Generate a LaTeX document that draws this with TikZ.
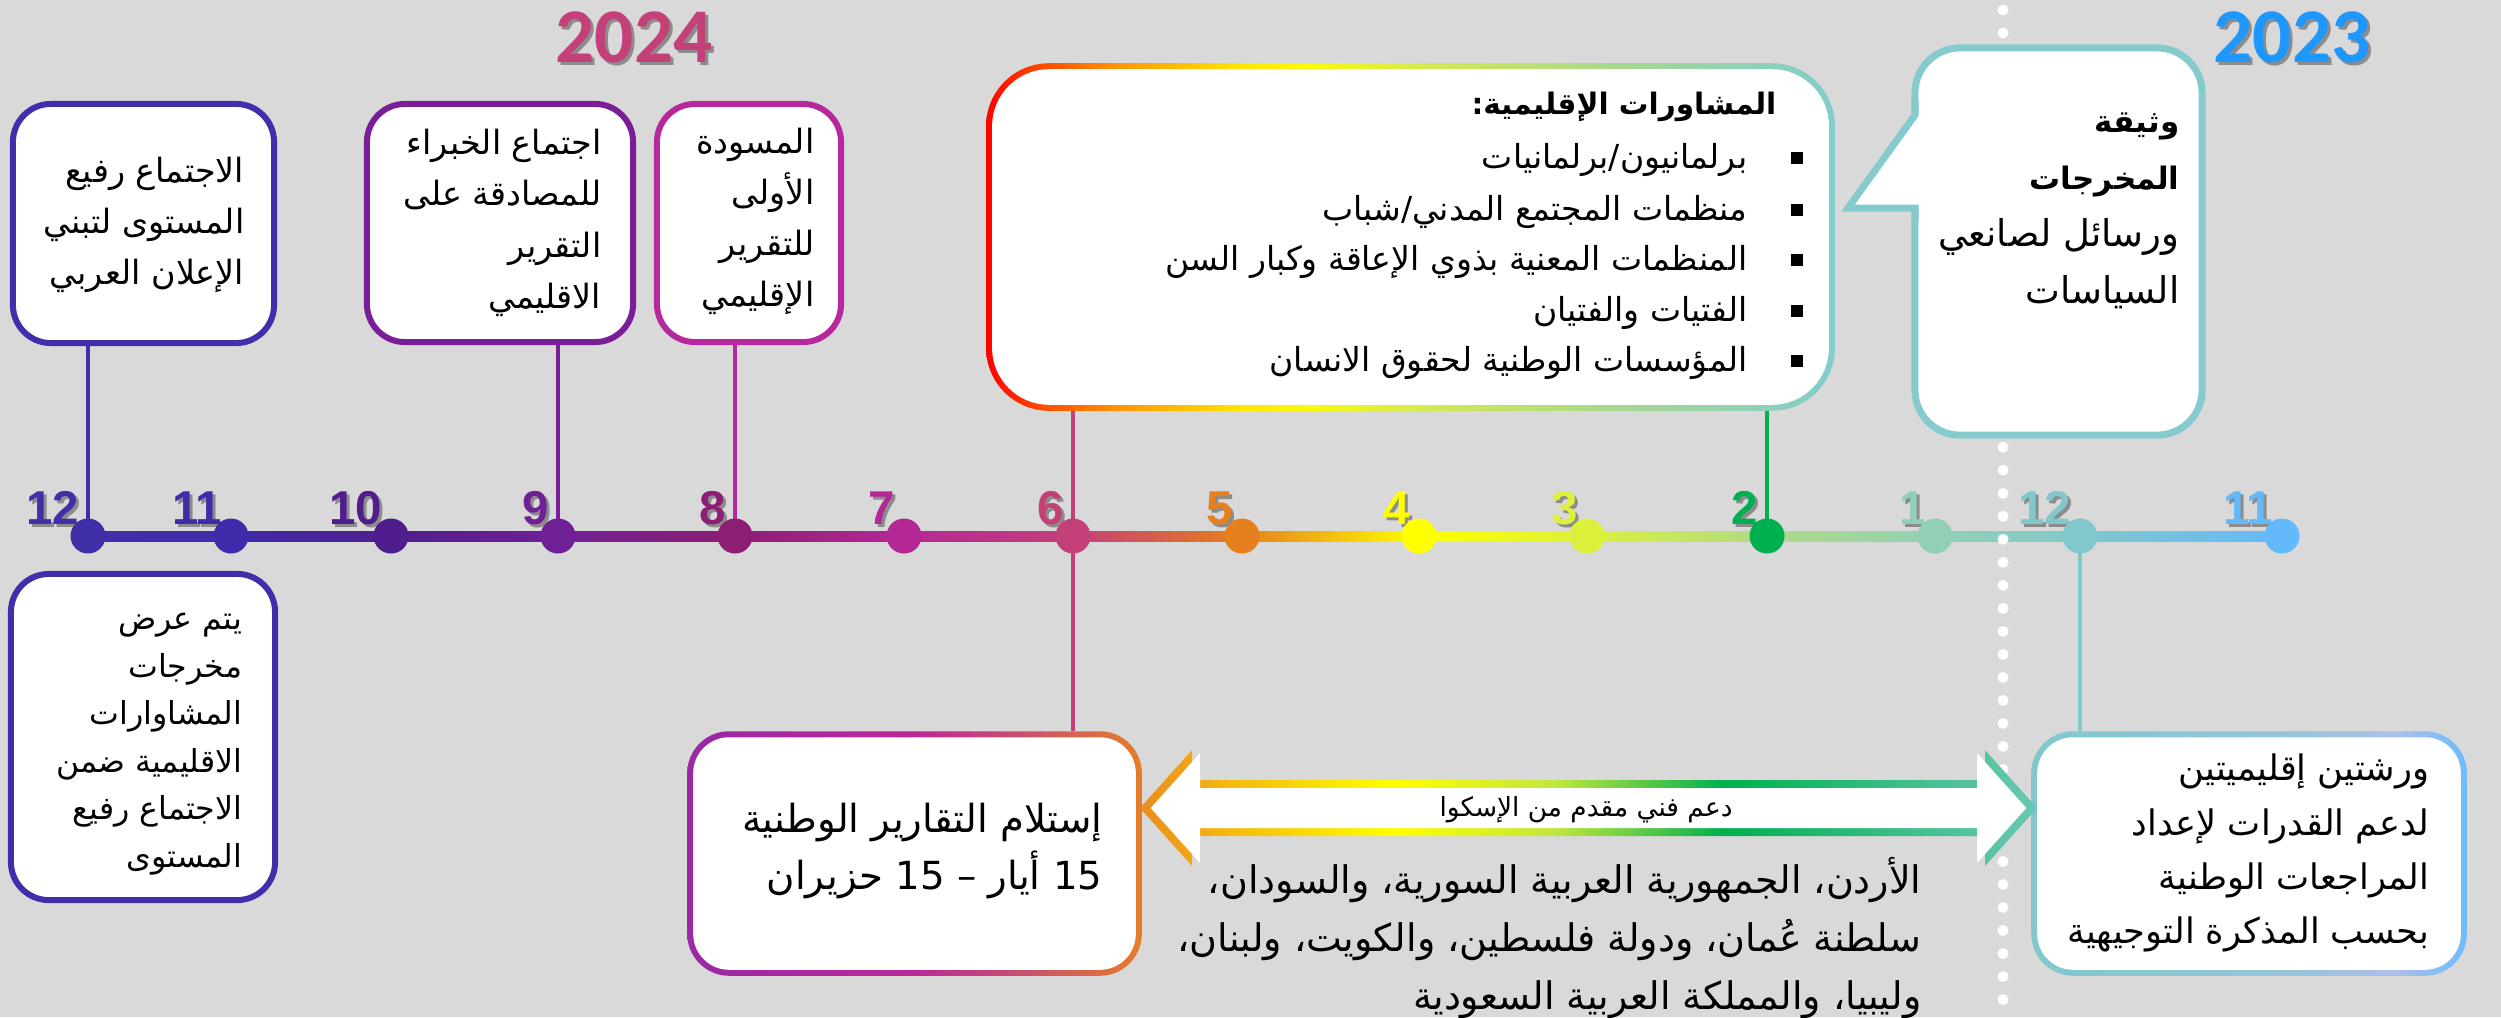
\documentclass[tikz,border=0pt]{standalone}
\usepackage{fontspec}
\usepackage{graphicx}
\setmainfont{Liberation Sans}
\newfontfamily\arabicfont[Script=Arabic]{DejaVu Sans}
\newfontfamily\numfont{Liberation Sans}
\newfontfamily\yearfont{Carlito}
\TeXXeTstate=1
\newcommand\arl[1]{\beginR #1\endR}
\newcommand\arsize[2]{\arabicfont\fontsize{#1}{#2}\selectfont}

\definecolor{bg}{RGB}{217,217,217}
\definecolor{nshadow}{RGB}{140,140,140}
\definecolor{c12}{RGB}{64,48,168}
\definecolor{c11}{RGB}{64,44,170}
\definecolor{c10}{RGB}{80,30,140}
\definecolor{c9}{RGB}{112,32,150}
\definecolor{c8}{RGB}{140,30,115}
\definecolor{c7}{RGB}{180,40,150}
\definecolor{c6}{RGB}{196,64,120}
\definecolor{c5}{RGB}{230,128,30}
\definecolor{c4}{RGB}{255,255,0}
\definecolor{c3}{RGB}{220,240,60}
\definecolor{c2}{RGB}{0,176,80}
\definecolor{cl2}{RGB}{175,218,135}
\definecolor{c1}{RGB}{145,208,180}
\definecolor{c12b}{RGB}{128,200,204}
\definecolor{c11b}{RGB}{100,185,250}
\definecolor{cA}{RGB}{66,46,170}
\definecolor{cB}{RGB}{122,30,152}
\definecolor{cC}{RGB}{182,40,155}
\definecolor{cE}{RGB}{133,203,205}
\definecolor{y24}{RGB}{196,64,120}
\definecolor{y23}{RGB}{30,152,255}
% box D gradient
\definecolor{d0}{RGB}{255,0,0}
\definecolor{d1}{RGB}{255,70,0}
\definecolor{d2}{RGB}{255,145,0}
\definecolor{d3}{RGB}{255,230,0}
\definecolor{d4}{RGB}{250,250,10}
\definecolor{d5}{RGB}{215,235,75}
\definecolor{d6}{RGB}{165,215,145}
\definecolor{d7}{RGB}{130,205,205}
% box G gradient
\definecolor{g0}{RGB}{155,40,165}
\definecolor{g1}{RGB}{188,40,152}
\definecolor{g2}{RGB}{202,80,110}
\definecolor{g3}{RGB}{230,125,40}
% box H gradient
\definecolor{h0}{RGB}{128,200,204}
\definecolor{h1}{RGB}{150,196,218}
\definecolor{h2}{RGB}{172,190,234}
\definecolor{h3}{RGB}{110,188,250}
% arrow gradient
\definecolor{a0}{RGB}{235,140,30}
\definecolor{a1}{RGB}{245,185,15}
\definecolor{a2}{RGB}{255,255,0}
\definecolor{a3}{RGB}{195,230,60}
\definecolor{a4}{RGB}{0,176,80}
\definecolor{a5}{RGB}{105,200,180}

\pgfdeclarehorizontalshading{tlshade}{100bp}{color(0bp)=(c12); color(25bp)=(c12); color(28.26bp)=(c11); color(31.9bp)=(c10); color(35.71bp)=(c9); color(39.74bp)=(c8); color(43.6bp)=(c7); color(47.45bp)=(c6); color(51.3bp)=(c5); color(55.33bp)=(c4); color(59.16bp)=(c3); color(63.26bp)=(cl2); color(67.09bp)=(c1); color(70.4bp)=(c12b); color(75bp)=(c11b); color(100bp)=(c11b)}
\pgfdeclarehorizontalshading{dshade}{100bp}{color(0bp)=(d0); color(25bp)=(d0); color(28bp)=(d1); color(32.5bp)=(d2); color(40bp)=(d3); color(44bp)=(d4); color(50bp)=(d5); color(62.5bp)=(d6); color(75bp)=(d7); color(100bp)=(d7)}
\pgfdeclarehorizontalshading{gshade}{100bp}{color(0bp)=(g0); color(25bp)=(g0); color(50bp)=(g1); color(62bp)=(g2); color(75bp)=(g3); color(100bp)=(g3)}
\pgfdeclarehorizontalshading{hshade}{100bp}{color(0bp)=(h0); color(25bp)=(h0); color(55bp)=(h1); color(67bp)=(h2); color(75bp)=(h3); color(100bp)=(h3)}
\pgfdeclarehorizontalshading{ashade}{100bp}{color(0bp)=(a0); color(25bp)=(a0); color(30bp)=(a1); color(39bp)=(a2); color(48bp)=(a3); color(57.5bp)=(a4); color(75bp)=(a5); color(100bp)=(a5)}

\newcommand\tlmark[4]{%
  \node[num, text=nshadow] (#1s) at (#2-5,527) {#4};
  \node[num, text=#3] (#1l) at (#2-8,524) {#4};
  \node[dot, fill=#3] (#1) at (#2,536) {};}

\begin{document}
\begin{tikzpicture}[x=0.01cm,y=-0.01cm,
  dot/.style={circle, inner sep=0pt, minimum size=0.35cm},
  num/.style={font=\numfont\bfseries\fontsize{13.5pt}{13.5pt}\selectfont, inner sep=0pt, anchor=base east},
  year/.style={font=\yearfont\bfseries\fontsize{22pt}{22pt}\selectfont, inner sep=0pt},
  box/.style={rectangle, rounded corners=0.38cm, line width=0.06cm, fill=white, inner sep=0pt},
  gbox/.style={rectangle, inner sep=0pt},
  conn/.style={line width=0.04cm},
  artxt/.style={inner sep=0pt, align=right, text=black},
  sq/.style={rectangle, fill=black, inner sep=0pt, minimum size=0.12cm},
]
\useasboundingbox (0,0) rectangle (2501,1017);
\fill[bg] (0,0) rectangle (2501,1017);

% years
\node[year, text=nshadow] (y24s) at (637,40) {2024};
\node[year, text=y24] (y24l) at (634,37) {2024};
\node[year, text=nshadow] (y23s) at (2295,40) {2023};
\node[year, text=y23] (y23l) at (2292,37) {2023};

% timeline
\shade[shading=tlshade] (88,531) rectangle (2282,541);

% dotted separator
\coordinate (vtop) at (2003,10);
\coordinate (vbot) at (2003,1017);
\draw[white, line width=0.11cm, line cap=round, dash pattern=on 0pt off 0.23cm] (vtop) -- (vbot);

% dot positions
\coordinate (p12) at (88,536);
\coordinate (p9) at (558,536);
\coordinate (p8) at (735,536);
\coordinate (p6) at (1073,536);
\coordinate (p2) at (1767,536);
\coordinate (p12b) at (2080,536);

% plain boxes
\node[box, draw=cA, minimum width=2.61cm, minimum height=2.39cm] (bA) at (143.5,223.5) {};
\node[box, draw=cB, minimum width=2.66cm, minimum height=2.38cm] (bB) at (500,223) {};
\node[box, draw=cC, minimum width=1.84cm, minimum height=2.38cm] (bC) at (749,223) {};
\node[box, draw=cA, minimum width=2.64cm, minimum height=3.26cm] (bF) at (143,737) {};

% box D (gradient border)
\node[gbox, minimum width=8.47cm, minimum height=3.46cm] (bD) at (1410.5,237) {};
\shade[shading=dshade, rounded corners=0.63cm] (bD.north west) rectangle (bD.south east);
\fill[white, rounded corners=0.57cm] ([shift={(0.06cm,-0.06cm)}]bD.north west) rectangle ([shift={(-0.06cm,0.06cm)}]bD.south east);

% box G
\node[gbox, minimum width=4.53cm, minimum height=2.43cm] (bG) at (914.5,853.5) {};
\shade[shading=gshade, rounded corners=0.42cm] (bG.north west) rectangle (bG.south east);
\fill[white, rounded corners=0.36cm] ([shift={(0.06cm,-0.06cm)}]bG.north west) rectangle ([shift={(-0.06cm,0.06cm)}]bG.south east);

% box H
\node[gbox, minimum width=4.34cm, minimum height=2.43cm] (bH) at (2249,853.5) {};
\shade[shading=hshade, rounded corners=0.42cm] (bH.north west) rectangle (bH.south east);
\fill[white, rounded corners=0.36cm] ([shift={(0.06cm,-0.06cm)}]bH.north west) rectangle ([shift={(-0.06cm,0.06cm)}]bH.south east);

% box E (callout)
\node[box, draw=cE, line width=0.07cm, rounded corners=0.45cm, minimum width=2.87cm, minimum height=3.87cm] (bE) at (2058.5,241.5) {};
\coordinate (eTip) at (1848,208);
\fill[white] (1919,112) -- (eTip) -- (1919,208) -- cycle;
\draw[cE, line width=0.07cm, line join=miter] (1915,100) -- (1915,115) -- (eTip) -- (1915,208) -- (1915,222);

% connectors
\draw[conn, cA] (bA.south -| p12) -- (p12);
\draw[conn, cB] (bB.south -| p9) -- (p9);
\draw[conn, cC] (bC.south -| p8) -- (p8);
\draw[conn, c6] (bD.south -| p6) -- (bG.north -| p6);
\draw[conn, c2] (bD.south -| p2) -- (p2);
\draw[conn, c12b] (p12b) -- (bH.north -| p12b);

% double arrow
\shade[shading=ashade] (1140,808) -- (1192,750) -- (1192,780) -- (1985,780) -- (1985,750) -- (2037,808) -- (1985,866) -- (1985,836) -- (1192,836) -- (1192,866) -- cycle;
\fill[white] (1150.7,808) -- (1200,753.1) -- (1200,788) -- (1977,788) -- (1977,753.1) -- (2026.3,808) -- (1977,862.9) -- (1977,828) -- (1200,828) -- (1200,862.9) -- cycle;

% timeline marks
\tlmark{d12}{88}{c12}{12}
\tlmark{d11}{231}{c11}{11}
\tlmark{d10}{391}{c10}{10}
\tlmark{d9}{558}{c9}{9}
\tlmark{d8}{735}{c8}{8}
\tlmark{d7}{904}{c7}{7}
\tlmark{d6}{1073}{c6}{6}
\tlmark{d5}{1242}{c5}{5}
\tlmark{d4}{1419}{c4}{4}
\tlmark{d3}{1587}{c3}{3}
\tlmark{d2}{1767}{c2}{2}
\tlmark{d1}{1935}{c1}{1}
\tlmark{d12b}{2080}{c12b}{12}
\tlmark{d11b}{2282}{c11b}{11}

% texts
\node[artxt, anchor=east, font={\arsize{9.5pt}{14.5pt}}] (tA) at (245,225)
  {\arl{الاجتماع رفيع}\\\arl{المستوى لتبني}\\\arl{الإعلان العربي}};
\node[artxt, anchor=east, font={\arsize{9.5pt}{14.6pt}}] (tB) at (602,223)
  {\arl{اجتماع الخبراء}\\\arl{للمصادقة على}\\\arl{التقرير}\\\arl{الاقليمي}};
\node[artxt, anchor=east, font={\arsize{9.5pt}{14.5pt}}] (tC) at (815,221)
  {\arl{المسودة}\\\arl{الأولى}\\\arl{للتقرير}\\\arl{الإقليمي}};
\node[artxt, anchor=east, font={\arsize{9pt}{13.5pt}}] (tF) at (243,744)
  {\arl{يتم عرض}\\\arl{مخرجات}\\\arl{المشاوارات}\\\arl{الاقليمية ضمن}\\\arl{الاجتماع رفيع}\\\arl{المستوى}};

% box D text
\node[artxt, anchor=east, font={\arsize{8.4pt}{13pt}\bfseries}] (dT) at (1777,107) {\arl{المشاورات الإقليمية:}};
\node[artxt, anchor=east, font={\arsize{9.4pt}{13pt}}] (dL1) at (1748,160) {\arl{برلمانيون/برلمانيات}};
\node[artxt, anchor=east, font={\arsize{9.4pt}{13pt}}] (dL2) at (1748,212) {\arl{منظمات المجتمع المدني/شباب}};
\node[artxt, anchor=east, font={\arsize{9.4pt}{13pt}}] (dL3) at (1748,262) {\arl{المنظمات المعنية بذوي الإعاقة وكبار السن}};
\node[artxt, anchor=east, font={\arsize{9.4pt}{13pt}}] (dL4) at (1748,313) {\arl{الفتيات والفتيان}};
\node[artxt, anchor=east, font={\arsize{9.4pt}{13pt}}] (dL5) at (1748,363) {\arl{المؤسسات الوطنية لحقوق الانسان}};
\node[sq] (q1) at (1797,158) {};
\node[sq] (q2) at (1797,210) {};
\node[sq] (q3) at (1797,260) {};
\node[sq] (q4) at (1797,311) {};
\node[sq] (q5) at (1797,361) {};

% box E text
\node[artxt, anchor=east, font={\arsize{10.5pt}{16.2pt}}] (tE) at (2180,211)
  {{\fontsize{8.8pt}{16.2pt}\selectfont\bfseries\arl{وثيقة}}\\{\fontsize{8.8pt}{16.2pt}\selectfont\bfseries\arl{المخرجات}}\\\arl{ورسائل لصانعي}\\\arl{السياسات}};

% box G text
\node[artxt, anchor=east, font={\arsize{11pt}{16.2pt}}] (tG) at (1103,851)
  {\arl{إستلام التقارير الوطنية}\\\arl{\beginL 15\endL{} أيار – \beginL 15\endL{} حزيران}};

% box H text
\node[artxt, anchor=east, font={\arsize{10pt}{15.4pt}}] (tH) at (2430,853)
  {\arl{ورشتين إقليميتين}\\\arl{لدعم القدرات لإعداد}\\\arl{المراجعات الوطنية}\\\arl{بحسب المذكرة التوجيهية}};

% arrow text
\node[artxt, font={\arsize{7.5pt}{9pt}}] (tArr) at (1586,810) {\arl{دعم فني مقدم من الإسكوا}};

% countries
\node[artxt, anchor=east, font={\arsize{10.8pt}{16.4pt}}] (tK) at (1922,938)
  {\arl{الأردن، الجمهورية العربية السورية، والسودان،}\\\arl{سلطنة عُمان، ودولة فلسطين، والكويت، ولبنان،}\\\arl{وليبيا، والمملكة العربية السعودية}};
\end{tikzpicture}
\end{document}
